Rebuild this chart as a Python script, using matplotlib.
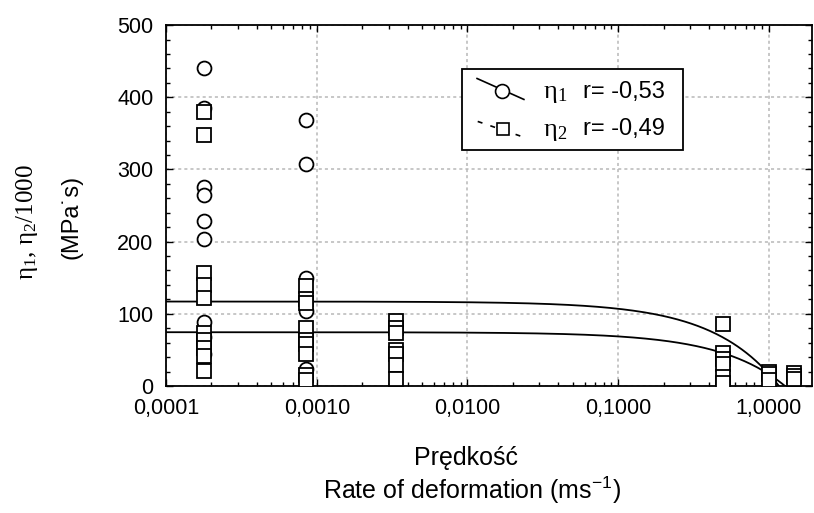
import numpy as np
import matplotlib
matplotlib.use('Agg')
import matplotlib.pyplot as plt
from matplotlib.ticker import FixedLocator, FuncFormatter, MultipleLocator, LogLocator
from matplotlib.patches import Rectangle

plt.rcParams['font.family'] = ['Liberation Sans', 'DejaVu Sans']
plt.rcParams['mathtext.default'] = 'regular'

# rate of deformation for each measurement group (m/s)
rate = [1.79e-4, 8.46e-4, 3.37e-3, 0.498, 1.0, 1.46]

# eta1 (circles) per group
eta1 = [
    [440, 385, 276, 264, 229, 203, 89, 68, 45],
    [368, 307, 150, 104, 24],
    [], [], [], [],
]
# eta2/1000 (squares) per group
eta2 = [
    [379, 348, 156, 140, 122, 74, 64, 52, 42, 21],
    [138, 120, 115, 81, 64, 58, 45, 15, 8],
    [90, 80, 73, 50, 45, 29, 10],
    [86, 46, 38, 30, 12, 4],
    [20, 16, 8],
    [18, 14, 9],
]

# linear fits y = a + b*x
fit1_a, fit1_b = 117.0, -100.4
fit2_a, fit2_b = 74.5, -58.3
r1, r2 = '-0,53', '-0,49'

xticks = [1e-4, 1e-3, 1e-2, 1e-1, 1.0]

fig = plt.figure(figsize=(8.14, 5.13), dpi=100)
ax = fig.add_axes([0.204, 0.2476, 0.7935, 0.7035])

c_x = np.concatenate([[r] * len(v) for r, v in zip(rate, eta1)])
c_y = np.concatenate([v for v in eta1])
s_x = np.concatenate([[r] * len(v) for r, v in zip(rate, eta2)])
s_y = np.concatenate([v for v in eta2])

for a, b in [(fit1_a, fit1_b), (fit2_a, fit2_b)]:
    x0 = -a / b
    xx = np.logspace(-4, np.log10(x0), 400)
    ax.plot(xx, a + b * xx, '-', color='black', lw=1.3, zorder=3)

ax.plot(c_x, c_y, 'o', ms=10, mfc='white', mec='black', mew=1.3, zorder=4)
ax.plot(s_x, s_y, 's', ms=9.5, mfc='white', mec='black', mew=1.3, zorder=5)

ax.set_xscale('log')
ax.set_xlim(1e-4, 1.93)
ax.set_ylim(0, 500)
ax.xaxis.set_major_locator(FixedLocator(xticks))
ax.xaxis.set_minor_locator(LogLocator(base=10, subs=np.arange(2, 10)))
ax.xaxis.set_major_formatter(FuncFormatter(lambda v, p: ('%.4f' % v).replace('.', ',')))
ax.xaxis.set_minor_formatter(FuncFormatter(lambda v, p: ''))
ax.yaxis.set_major_locator(MultipleLocator(100))
ax.yaxis.set_minor_locator(MultipleLocator(20))
ax.tick_params(which='both', direction='in', top=True, right=True, labelsize=15.5)
ax.tick_params(which='major', length=5, width=1)
ax.tick_params(which='minor', length=3, width=1)
ax.tick_params(axis='x', pad=9)
ax.tick_params(axis='y', pad=9)
ax.grid(True, which='major', color='#b8b8b8', ls=(0, (2, 2)), lw=1.1)
for s in ax.spines.values():
    s.set_linewidth(1.3)

# legend drawn by hand
ax.add_patch(Rectangle((0.4587, 0.654), 0.3413, 0.223, transform=ax.transAxes,
                       fill=True, facecolor='white', edgecolor='black', lw=1.3, zorder=6))
T = ax.transAxes
ax.plot([0.4815, 0.554], [0.852, 0.794], color='black', lw=1.2, transform=T, zorder=7)
ax.plot([0.5203], [0.818], 'o', ms=10, mfc='white', mec='black', mew=1.2, transform=T, zorder=8)
ax.plot([0.4825, 0.556], [0.733, 0.688], color='black', lw=1.2, ls=(0, (3, 5)), transform=T, zorder=7)
ax.plot([0.5213], [0.713], 's', ms=9, mfc='white', mec='black', mew=1.2, transform=T, zorder=8)
ax.text(0.583, 0.808, 'η$_1$', transform=T, fontsize=19, va='center', zorder=9,
        family='Liberation Serif')
ax.text(0.646, 0.815, 'r= ' + r1, transform=T, fontsize=17, va='center', zorder=9)
ax.text(0.583, 0.704, 'η$_2$', transform=T, fontsize=19, va='center', zorder=9,
        family='Liberation Serif')
ax.text(0.646, 0.711, 'r= ' + r2, transform=T, fontsize=17, va='center', zorder=9)

fig.text(0.572, 0.108, 'Prędkość', ha='center', va='center', fontsize=18)
fig.text(0.58, 0.045, 'Rate of deformation (ms$^{-1}$)', ha='center', va='center', fontsize=18)
fig.text(0.033, 0.567, 'η$_1$, η$_2$/1000', rotation=90, ha='center', va='center',
         fontsize=18, family='Liberation Serif')
fig.text(0.088, 0.577, '(MPa˙s)', rotation=90, ha='center', va='center', fontsize=17)

fig.savefig('out.png', dpi=100)
